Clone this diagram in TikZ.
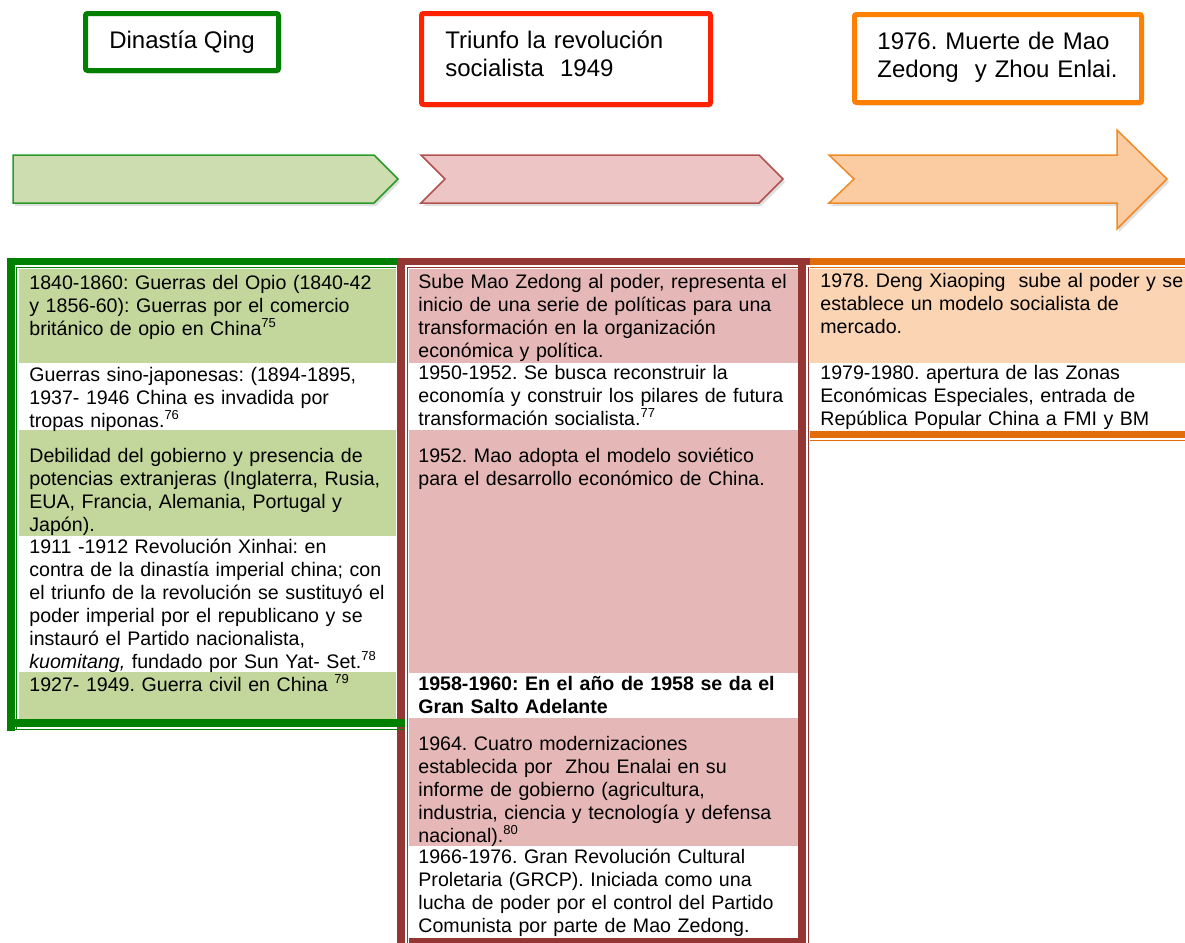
\documentclass[tikz,border=0pt]{standalone}
\usepackage{fontspec}
\setmainfont{Liberation Sans}
\usetikzlibrary{shadows}
\definecolor{qgreen}{HTML}{008000}
\definecolor{gfill}{HTML}{C3D69B}
\definecolor{arrgfill}{HTML}{CDDDAF}
\definecolor{arrgline}{HTML}{2A9A2A}
\definecolor{rboxline}{HTML}{FF2200}
\definecolor{oboxline}{HTML}{FF8000}
\definecolor{arrrfill}{HTML}{EDC5C4}
\definecolor{arrrline}{HTML}{B0524E}
\definecolor{arrofill}{HTML}{FBCBA1}
\definecolor{arroline}{HTML}{F08A24}
\definecolor{rframe}{HTML}{943634}
\definecolor{pfill}{HTML}{E5B8B7}
\definecolor{oframe}{HTML}{E36C0A}
\definecolor{ofill}{HTML}{FBD4B4}
\newcommand{\cellfont}{\fontsize{9.8}{11.5}\selectfont}
\newcommand{\boxfont}{\fontsize{12}{14}\selectfont}
\newcommand{\supnum}[1]{\textsuperscript{\fontsize{6.5}{7}\selectfont #1}}
\frenchspacing
\begin{document}
\frenchspacing
\begin{tikzpicture}[x=0.5pt,y=-0.5pt,
  topbox/.style={draw, line width=2.5pt, rounded corners=1pt, fill=white, inner sep=0pt,
    drop shadow={opacity=0.3, shadow xshift=1pt, shadow yshift=-1.5pt}},
  boxtext/.style={anchor=base west, inner sep=0pt, align=left, text width=140pt, font=\boxfont},
  arrshape/.style={line width=0.75pt, line join=miter,
    drop shadow={opacity=0.25, shadow xshift=1pt, shadow yshift=-1.5pt}},
  celltext/.style={anchor=base west, inner sep=0pt, align=left, text width=200pt, font=\cellfont},
  thinline/.style={line width=0.5pt}
]
\useasboundingbox (0,0) rectangle (1185,943);

% ---------- top boxes ----------
\node[topbox, draw=qgreen, minimum width=96.5pt, minimum height=28.5pt, font=\boxfont] (qing) at (182,42) {Dinastía Qing};
\node[topbox, draw=rboxline, minimum width=144.5pt, minimum height=45.5pt] (triunfo) at (566,59) {};
\node[boxtext] (triunfot) at (445,48) {Triunfo la revolución\\ socialista\ \ 1949};
\node[topbox, draw=oboxline, minimum width=143.5pt, minimum height=44pt] (muerte) at (998,58.5) {};
\node[boxtext] (muertet) at (877,49) {1976. Muerte de Mao\\ Zedong\ \ y Zhou Enlai.};

% ---------- arrows ----------
\draw[arrshape, draw=arrgline, fill=arrgfill] (13,155) -- (374,155) -- (398,179) -- (374,203) -- (13,203) -- cycle;
\draw[arrshape, draw=arrrline, fill=arrrfill] (421,155) -- (759,155) -- (783,179) -- (759,203) -- (421,203) -- (445,179) -- cycle;
\draw[arrshape, draw=arroline, fill=arrofill] (829,155) -- (1117,155) -- (1117,130) -- (1167,179) -- (1117,229) -- (1117,203) -- (829,203) -- (854,179) -- cycle;

% ---------- cell fills ----------
\fill[gfill] (19,269) rectangle (396,363);
\fill[gfill] (19,430) rectangle (396,536);
\fill[gfill] (19,672) rectangle (396,719);
\fill[pfill] (409,269) rectangle (798,363);
\fill[pfill] (409,430) rectangle (798,673);
\fill[pfill] (409,718) rectangle (798,846);
\fill[ofill] (810,269) rectangle (1185,363);

% ---------- green frame ----------
\fill[qgreen] (7,258) rectangle (15,731);
\fill[qgreen] (7,258) rectangle (397,265);
\draw[qgreen, thinline] (16.5,267) -- (396,267);
\draw[qgreen, thinline] (16.5,267) -- (16.5,729);

% ---------- red frame ----------
\fill[rframe] (397,258) rectangle (810,265);
\fill[rframe] (397,265) rectangle (405,943);
\fill[rframe] (798,265) rectangle (806,943);
\fill[rframe] (409,938) rectangle (806,943);
\draw[rframe, thinline] (407.5,267) -- (407.5,943);
\draw[rframe, thinline] (407.5,267) -- (798,267);
\draw[rframe, thinline] (808.5,267) -- (808.5,943);

% ---------- green bottom (over red) ----------
\fill[qgreen] (15,719) rectangle (405,727);
\draw[qgreen, thinline] (15,729) -- (405,729);

% ---------- orange frame ----------
\fill[oframe] (810,258) rectangle (1185,265);
\draw[oframe, thinline] (810,267) -- (1185,267);
\fill[oframe] (810,431) rectangle (1185,438);
\draw[oframe, thinline] (810,440) -- (1185,440);

% ---------- green column text ----------
\node[celltext] (g1) at (29,289) {1840-1860: Guerras del Opio (1840-42\\ y 1856-60): Guerras por el comercio\\ británico de opio en China\supnum{75}};
\node[celltext] (g2) at (29,381) {Guerras sino-japonesas: (1894-1895,\\ 1937- 1946 China es invadida por\\ tropas niponas.\supnum{76}};
\node[celltext] (g3) at (29,462) {Debilidad del gobierno y presencia de\\ potencias extranjeras (Inglaterra, Rusia,\\ EUA, Francia, Alemania, Portugal y\\ Japón).};
\node[celltext] (g4) at (29,553) {1911 -1912 Revolución Xinhai: en\\ contra de la dinastía imperial china; con\\ el triunfo de la revolución se sustituyó el\\ poder imperial por el republicano y se\\ instauró el Partido nacionalista,\\ \textit{kuomitang,} fundado por Sun Yat- Set.\supnum{78}};
\node[celltext] (g5) at (29,691) {1927- 1949. Guerra civil en China \supnum{79}};

% ---------- red column text ----------
\node[celltext] (r1) at (418,288) {Sube Mao Zedong al poder, representa el\\ inicio de una serie de políticas para una\\ transformación en la organización\\ económica y política.};
\node[celltext] (r2) at (418,379) {1950-1952. Se busca reconstruir la\\ economía y construir los pilares de futura\\ transformación socialista.\supnum{77}};
\node[celltext] (r3) at (418,462) {1952. Mao adopta el modelo soviético\\ para el desarrollo económico de China.};
\node[celltext, font=\cellfont\bfseries] (r4) at (418,690) {1958-1960: En el año de 1958 se da el\\ Gran Salto Adelante};
\node[celltext] (r5) at (418,750) {1964. Cuatro modernizaciones\\ establecida por\ \ Zhou Enalai en su\\ informe de gobierno (agricultura,\\ industria, ciencia y tecnología y defensa\\ nacional).\supnum{80}};
\node[celltext] (r6) at (418,863) {1966-1976. Gran Revolución Cultural\\ Proletaria (GRCP). Iniciada como una\\ lucha de poder por el control del Partido\\ Comunista por parte de Mao Zedong.};

% ---------- orange column text ----------
\node[celltext] (o1) at (820,287) {1978. Deng Xiaoping\ \ sube al poder y se\\ establece un modelo socialista de\\ mercado.};
\node[celltext] (o2) at (820,379) {1979-1980. apertura de las Zonas\\ Económicas Especiales, entrada de\\ República Popular China a FMI y BM};
\end{tikzpicture}
\end{document}
